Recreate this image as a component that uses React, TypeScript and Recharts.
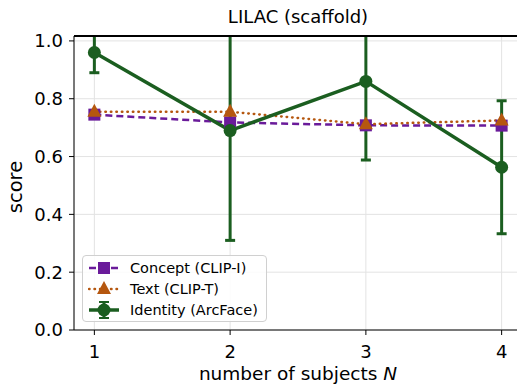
import React from 'react';
import {
  LineChart,
  Line,
  XAxis,
  YAxis,
  CartesianGrid,
  ErrorBar,
  Legend,
  ReferenceLine,
} from 'recharts';

const subjects = [1, 2, 3, 4];
const conceptScores = [0.745, 0.718, 0.708, 0.707];
const textScores = [0.755, 0.755, 0.712, 0.725];
const identityScores = [0.96, 0.69, 0.86, 0.563];
const identityErr = [0.07, 0.38, 0.272, 0.23];
const yTicks = [0, 0.2, 0.4, 0.6, 0.8, 1.0];

const PURPLE = '#6a1b9a';
const ORANGE = '#b5570f';
const GREEN = '#1b5e20';
const FONT = '"DejaVu Sans", sans-serif';
const Y_MAX = 1.017;

// plot box inside the svg (used to clip the error bars)
const PLOT = { left: 74, top: 36, right: 8, bottom: 58 };
const CHART_W = 530;
const CHART_H = 388;

const data = subjects.map((n, i) => ({
  n,
  concept: conceptScores[i],
  text: textScores[i],
  identity: identityScores[i],
  err: identityErr[i],
}));

const SquareDot = ({ cx, cy }: any) => (
  <rect x={cx - 6} y={cy - 6} width={12} height={12} fill={PURPLE} />
);

const TriangleDot = ({ cx, cy }: any) => (
  <polygon points={`${cx},${cy - 8} ${cx - 7},${cy + 5} ${cx + 7},${cy + 5}`} fill={ORANGE} />
);

const CircleDot = ({ cx, cy }: any) => <circle cx={cx} cy={cy} r={6.5} fill={GREEN} />;

/**
 * Legend box in the lower left corner, drawn like matplotlib's
 */
const LegendBox = () => {
  const rows = [
    { label: 'Concept (CLIP-I)', color: PURPLE, dash: '7 4', w: 2.5, marker: 'square' },
    { label: 'Text (CLIP-T)', color: ORANGE, dash: '0.5 5', w: 2.5, marker: 'triangle' },
    { label: 'Identity (ArcFace)', color: GREEN, dash: undefined, w: 3.5, marker: 'circle' },
  ];
  return (
    <div
      style={{
        border: '1px solid #d0d0d0',
        borderRadius: 4,
        background: 'rgba(255,255,255,0.85)',
        padding: '1px 8px 1px 5px',
        fontFamily: FONT,
        fontSize: 14.5,
        color: '#000',
      }}
    >
      {rows.map((r) => (
        <div key={r.label} style={{ display: 'flex', alignItems: 'center', height: 21 }}>
          <svg width={32} height={20} style={{ marginRight: 10 }}>
            <line x1={1} y1={10} x2={31} y2={10} stroke={r.color} strokeWidth={r.w}
              strokeDasharray={r.dash} strokeLinecap={r.marker === 'triangle' ? 'round' : 'butt'} />
            {r.marker === 'square' && <rect x={10} y={4} width={12} height={12} fill={r.color} />}
            {r.marker === 'triangle' && <polygon points="16,2 9,15 23,15" fill={r.color} />}
            {r.marker === 'circle' && (
              <g>
                <line x1={16} y1={2} x2={16} y2={18} stroke={r.color} strokeWidth={3} />
                <line x1={11} y1={2} x2={21} y2={2} stroke={r.color} strokeWidth={2} />
                <line x1={11} y1={18} x2={21} y2={18} stroke={r.color} strokeWidth={2} />
                <circle cx={16} cy={10} r={6.5} fill={r.color} />
              </g>
            )}
          </svg>
          <span>{r.label}</span>
        </div>
      ))}
    </div>
  );
};

export default function App() {
  const tickStyle = { fill: '#000', fontSize: 18, fontFamily: FONT };
  return (
    <div style={{ position: 'absolute', left: 0, top: 0, width: 517, height: 388, overflow: 'hidden', background: '#fff' }}>
      <style>{`.recharts-errorBars, .recharts-errorBar { clip-path: url(#plotClip); }`}</style>
      <svg width={0} height={0} style={{ position: 'absolute' }}>
        <defs>
          <clipPath id="plotClip" clipPathUnits="userSpaceOnUse">
            <rect
              x={PLOT.left}
              y={PLOT.top}
              width={CHART_W - PLOT.left - PLOT.right}
              height={CHART_H - PLOT.top - PLOT.bottom}
            />
          </clipPath>
        </defs>
      </svg>
      <LineChart width={CHART_W} height={CHART_H} data={data} margin={{ top: PLOT.top, right: PLOT.right, bottom: 28, left: 0 }}>
        <CartesianGrid stroke="#e3e3e3" strokeWidth={1} />
        <XAxis
          dataKey="n"
          type="number"
          domain={[0.85, 4.15]}
          ticks={subjects}
          allowDataOverflow
          height={30}
          tick={tickStyle}
          tickSize={5}
          tickMargin={10}
          stroke="#000"
          tickLine={{ stroke: '#000' }}
        />
        <YAxis
          type="number"
          domain={[0, Y_MAX]}
          ticks={yTicks}
          allowDataOverflow
          width={74}
          tick={tickStyle}
          tickSize={5}
          tickMargin={6}
          tickFormatter={(v: number) => v.toFixed(1)}
          stroke="#000"
          tickLine={{ stroke: '#000' }}
        />
        {/* top spine */}
        <ReferenceLine y={Y_MAX} stroke="#000" strokeWidth={1.5} ifOverflow="visible" />
        <Line
          dataKey="concept"
          stroke={PURPLE}
          strokeWidth={2.5}
          strokeDasharray="7 4"
          dot={<SquareDot />}
          activeDot={false}
          isAnimationActive={false}
        />
        <Line
          dataKey="text"
          stroke={ORANGE}
          strokeWidth={2.5}
          strokeDasharray="0.5 5"
          strokeLinecap="round"
          dot={<TriangleDot />}
          activeDot={false}
          isAnimationActive={false}
        />
        <Line
          dataKey="identity"
          stroke={GREEN}
          strokeWidth={3.5}
          dot={<CircleDot />}
          activeDot={false}
          isAnimationActive={false}
        >
          <ErrorBar dataKey="err" direction="y" width={5} stroke={GREEN} strokeWidth={3} />
        </Line>
        <Legend
          layout="vertical"
          align="center"
          verticalAlign="middle"
          content={<LegendBox />}
          wrapperStyle={{ left: 82, top: 255, width: 'auto' }}
        />
      </LineChart>
      <div style={{ position: 'absolute', zIndex: 5, left: PLOT.left, top: PLOT.top - 1, width: 517 - PLOT.left, height: 2, background: '#000' }} />
      <div style={{ position: 'absolute', left: 198, width: 200, top: 6, textAlign: 'center', fontFamily: FONT, fontSize: 18 }}>
        LILAC (scaffold)
      </div>
      <div style={{ position: 'absolute', left: 148, width: 300, top: 363, textAlign: 'center', fontFamily: FONT, fontSize: 18.5 }}>
        number of subjects <i>N</i>
      </div>
      <div
        style={{
          position: 'absolute',
          left: 15,
          top: 187,
          transform: 'translate(-50%, -50%) rotate(-90deg)',
          fontFamily: FONT,
          fontSize: 19.5,
          whiteSpace: 'nowrap',
        }}
      >
        score
      </div>
    </div>
  );
}
